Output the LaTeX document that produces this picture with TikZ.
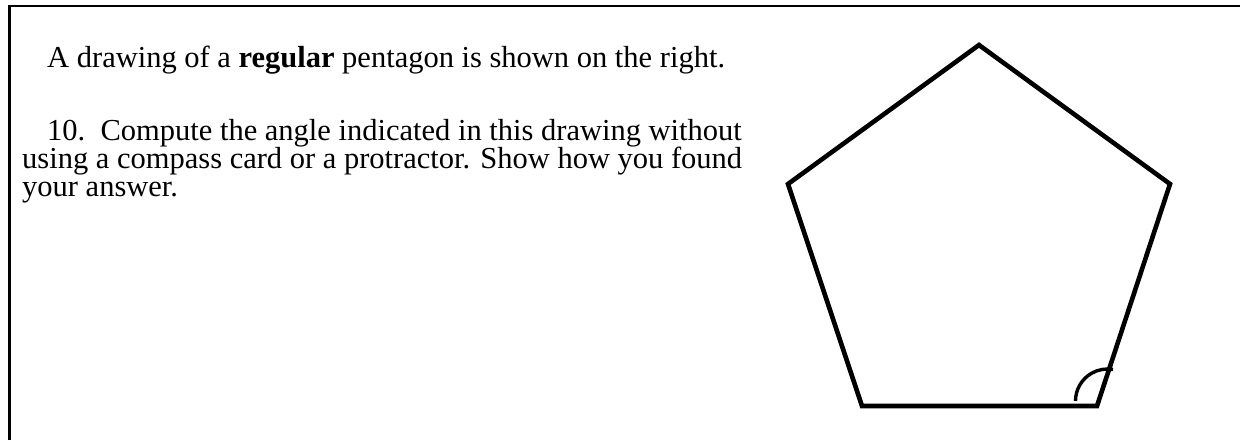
\documentclass[tikz,border=0pt]{standalone}
\usepackage{fontspec}
\setmainfont{Liberation Serif}
\begin{document}
\begin{tikzpicture}[x=1pt,y=-1pt,
  txt/.style={anchor=base west,inner sep=0pt,font=\fontsize{30.5}{34}\selectfont},
  frameline/.style={line width=2.8pt},
  pent/.style={line width=4.6pt,line join=miter},
  anglearc/.style={line width=3.4pt}]
\useasboundingbox (0,0) rectangle (1240,440);
\draw[frameline] (9.5,440) -- (9.5,6) -- (1240,6);
\node[txt] (l1) at (47,67) {A drawing of a \textbf{regular} pentagon is shown on the right.};
\node[txt] (l2) at (47,140) {10.\ \ Compute the angle indicated in this drawing without};
\node[txt] (l3) at (22,168) {using a compass card or a protractor. Show how you found};
\node[txt] (l4) at (22,196) {your answer.};
\coordinate (T) at (979,45);
\coordinate (R) at (1170,184);
\coordinate (BR) at (1097,406);
\coordinate (BL) at (862,406);
\coordinate (L) at (788,184);
\draw[pent] (T) -- (R) -- (BR) -- (BL) -- (L) -- cycle;
\draw[anglearc] (1075.5,401) arc[start angle=180,end angle=280,radius=32];
\end{tikzpicture}
\end{document}
